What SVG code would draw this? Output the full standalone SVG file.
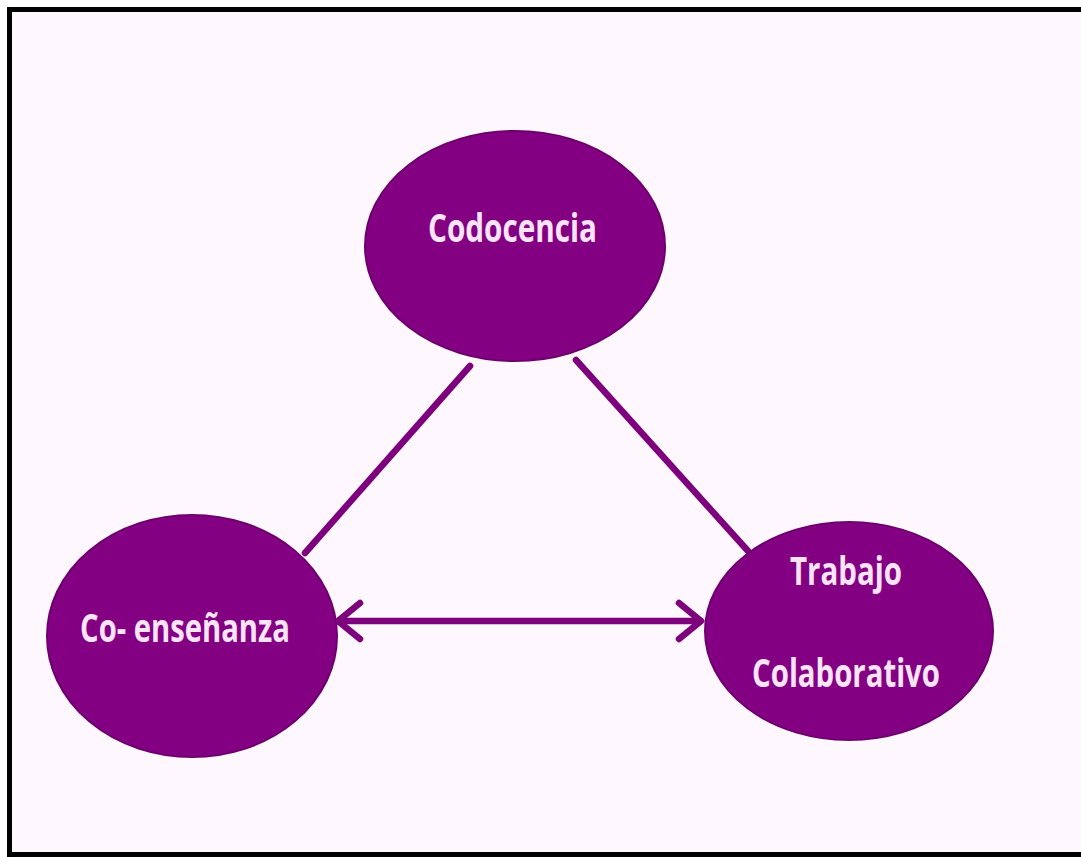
<svg xmlns="http://www.w3.org/2000/svg" width="1081" height="857" viewBox="0 0 1081 857">
<style>
.node{fill:#830083;stroke:#6e006e;stroke-width:2}
.lbl{font-family:"Open Sans","DejaVu Sans",sans-serif;font-weight:bold;font-size:40px;fill:#fbe4f8}
.conn{stroke:#7d007d;stroke-width:6.5;fill:none;stroke-linecap:round;stroke-linejoin:round}
</style>
<rect x="0" y="0" width="1081" height="857" fill="#ffffff"/>
<rect x="9.5" y="9.5" width="1090" height="845" fill="#fef8fe" stroke="#000000" stroke-width="5"/>
<g id="connectors">
<line class="conn" x1="470" y1="366" x2="305" y2="553"/>
<line class="conn" x1="576" y1="360" x2="748" y2="551"/>
<line class="conn" x1="338" y1="621" x2="700" y2="621"/>
<polyline class="conn" points="360,603 338,621 360,639"/>
<polyline class="conn" points="679,603 701,621 679,639"/>
</g>
<g id="codocencia">
<ellipse class="node" cx="515" cy="246" rx="150" ry="115"/>
<text class="lbl" x="428" y="242" textLength="169" lengthAdjust="spacingAndGlyphs">Codocencia</text>
</g>
<g id="coensenanza">
<ellipse class="node" cx="192" cy="636" rx="145" ry="121"/>
<text class="lbl" x="80" y="642" textLength="210" lengthAdjust="spacingAndGlyphs">Co- enseñanza</text>
</g>
<g id="trabajo">
<ellipse class="node" cx="849" cy="631" rx="144" ry="109"/>
<text class="lbl" x="790" y="585" textLength="112" lengthAdjust="spacingAndGlyphs">Trabajo</text>
<text class="lbl" x="752" y="687" textLength="188" lengthAdjust="spacingAndGlyphs">Colaborativo</text>
</g>
</svg>
